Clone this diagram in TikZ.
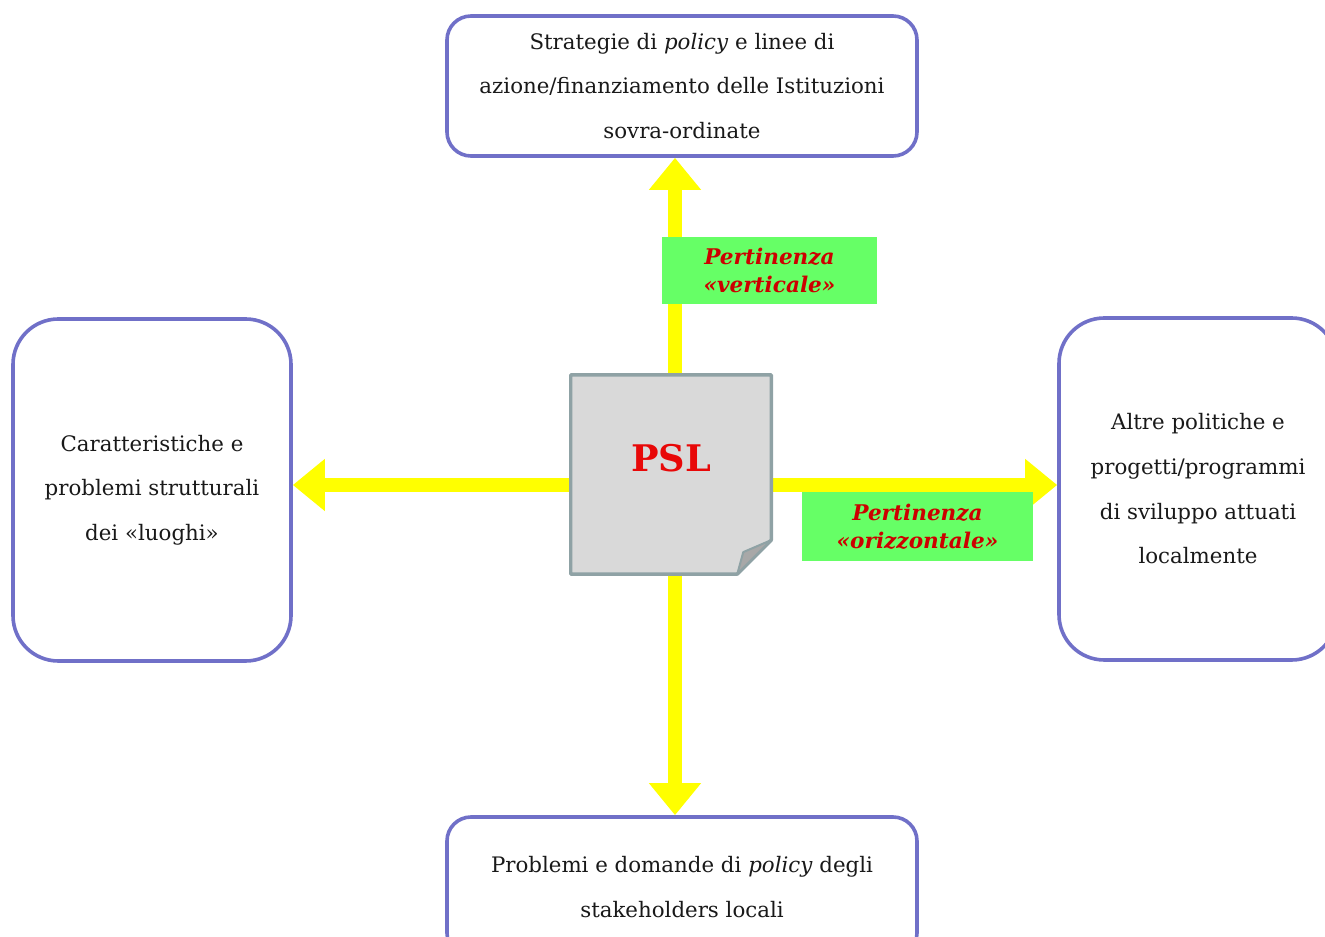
\documentclass[tikz,border=0pt]{standalone}
\usepackage{fontspec}
\setmainfont{DejaVu Serif}
\usetikzlibrary{arrows.meta}

\definecolor{boxblue}{RGB}{112,112,200}
\definecolor{docgray}{RGB}{217,217,217}
\definecolor{docedge}{RGB}{143,162,165}
\definecolor{foldgray}{RGB}{168,168,168}
\definecolor{arrowyellow}{RGB}{255,255,0}
\definecolor{labelgreen}{RGB}{102,255,102}
\definecolor{labelred}{RGB}{204,0,0}
\definecolor{pslred}{RGB}{232,8,8}

\tikzset{
  placebox/.style={draw=boxblue,line width=2.7pt,rounded corners=18pt,fill=white,align=center,text=black!90,font=\fontsize{16}{33.5}\selectfont},
  pertarrow/.style={draw=arrowyellow,line width=10.5pt,-{Triangle[width=37.5pt,length=24pt]}},
  pertlabel/.style={fill=labelgreen,text=labelred,align=center,font=\fontsize{16.2}{21}\selectfont\bfseries\itshape},
}

\begin{document}
\begin{tikzpicture}[x=0.75pt,y=-0.75pt]
    \useasboundingbox (0,0) rectangle (1325,937);
    \node[placebox,minimum width=352.5pt,minimum height=105pt](inst)at(682,86){Strategie di \emph{policy} e linee di\\azione/finanziamento delle Istituzioni\\sovra-ordinate};
    \node[placebox,rounded corners=34pt,minimum width=208.5pt,minimum height=256.5pt](luoghi)at(152,490){Caratteristiche e\\problemi strutturali\\dei «luoghi»};
    \node[placebox,rounded corners=34pt,minimum width=208.5pt,minimum height=256.5pt](altre)at(1198,489){Altre politiche e\\progetti/programmi\\di sviluppo attuati\\localmente};
    \node[placebox,minimum width=352.5pt,minimum height=105pt](stake)at(682,887){Problemi e domande di \emph{policy} degli\\stakeholders locali};
    \node[inner sep=0pt,minimum width=150pt,minimum height=149pt](psl)at(671,474.5){};
    \coordinate(ax)at(675,485);
    % frecce di pertinenza
    \draw[pertarrow](psl.north-|ax)--(inst.south-|ax);
    \draw[pertarrow](psl.south-|ax)--(stake.north-|ax);
    \draw[pertarrow](psl.west|-ax)--(luoghi.east|-ax);
    \draw[pertarrow](psl.east|-ax)--(altre.west|-ax);
    % documento PSL
    \draw[docedge,fill=docgray,line width=2.6pt,line join=round](psl.north west)--(psl.north east)--([yshift=25.5pt]psl.south east)--([xshift=-25.5pt]psl.south east)--(psl.south west)--cycle;
    \draw[docedge,fill=foldgray,line width=1.5pt,line join=round]([xshift=-25.5pt]psl.south east)--([xshift=-21pt,yshift=16.5pt]psl.south east)--([yshift=25.5pt]psl.south east)--cycle;
    \node[text=pslred,font=\fontsize{27.5}{30}\selectfont\bfseries](psltxt)at(671,458){PSL};
    \node[pertlabel,minimum width=161.25pt,minimum height=50.25pt](vert)at(769.5,270.5){Pertinenza\\«verticale»};
    \node[pertlabel,minimum width=173.25pt,minimum height=51.75pt](orizz)at(917.5,526.5){Pertinenza\\«orizzontale»};
\end{tikzpicture}
\end{document}
